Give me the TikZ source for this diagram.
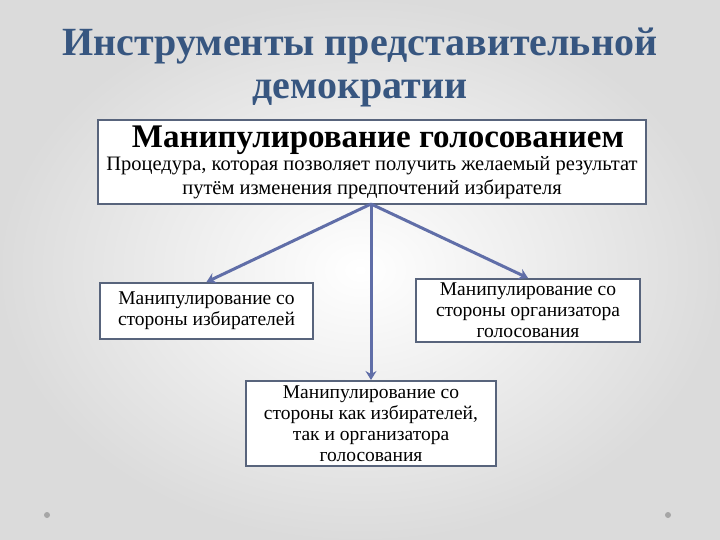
\documentclass[tikz,border=0pt]{standalone}
\usepackage{fontspec}
\setmainfont{Liberation Serif}
\usetikzlibrary{arrows.meta}
\definecolor{titleblue}{RGB}{55,86,128}
\definecolor{boxline}{RGB}{88,100,124}
\definecolor{arrowblue}{RGB}{96,110,168}
\tikzset{
  boxnode/.style={draw=boxline, line width=2pt, fill=white, align=center, inner sep=0pt},
  conn/.style={draw=arrowblue, line width=3pt, -{Stealth[length=9pt,width=11pt,inset=3pt]}},
  dotmark/.style={circle, fill=gray!70, inner sep=0pt, minimum size=6pt}
}
\begin{document}
\begin{tikzpicture}[x=1pt,y=-1pt]
\shade[inner color=white, outer color=gray!28] (0,0) rectangle (720,540);
\useasboundingbox (0,0) rectangle (720,540);
\node[text=titleblue, font=\fontsize{40}{43}\selectfont\bfseries, align=center] (title) at (360,67) {Инструменты представительной\\демократии};
\node[boxnode, minimum width=548pt, minimum height=84pt] (top) at (372,162) {};
\node[font=\fontsize{33}{36}\selectfont\bfseries] (toph) at (378,140) {Манипулирование голосованием};
\node[font=\fontsize{20.5}{24}\selectfont, align=center] (topsub) at (372,178) {Процедура, которая позволяет получить желаемый результат\\путём изменения предпочтений избирателя};
\node[boxnode, minimum width=213pt, minimum height=56pt, font=\fontsize{19.5}{21}\selectfont] (left) at (206.5,311) {Манипулирование со\\стороны избирателей};
\node[boxnode, minimum width=224pt, minimum height=63pt, font=\fontsize{19.5}{21}\selectfont] (right) at (528,310.5) {Манипулирование со\\стороны организатора\\голосования};
\node[boxnode, minimum width=250pt, minimum height=85pt, font=\fontsize{19.5}{21}\selectfont] (bottom) at (371,423.5) {Манипулирование со\\стороны как избирателей,\\так и организатора\\голосования};
\coordinate (src) at (371,204);
\draw[conn] (src) -- (left.north);
\draw[conn] (src) -- (right.north);
\draw[conn] (src) -- (bottom.north);
\node[dotmark] (d1) at (47,515) {};
\node[dotmark] (d2) at (668,515) {};
\end{tikzpicture}
\end{document}
